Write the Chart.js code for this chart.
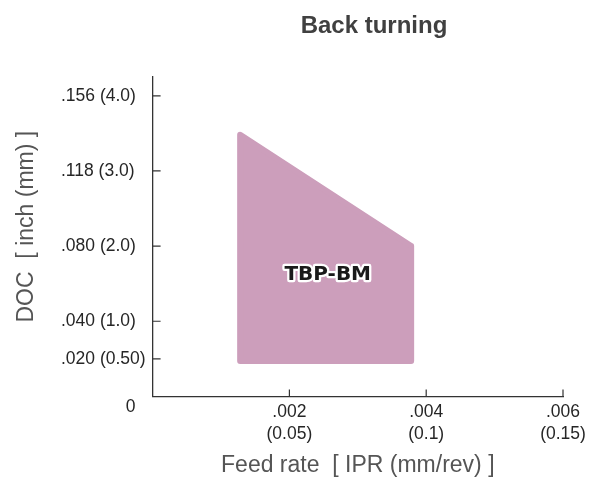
<!DOCTYPE html>
<html>
<head>
<meta charset="utf-8">
<script src="https://cdn.jsdelivr.net/npm/chart.js@4.4.0/dist/chart.umd.min.js"></script>
<style>
    html, body { margin: 0; padding: 0; background: #fff; }
    #wrap { width: 592px; height: 479px; }
</style>
</head>
<body>
<div id="wrap"><canvas id="chart"></canvas></div>
<script>
// corners of the TBP-BM area: feed (mm/rev) and DOC (mm)
const regionFeed = [0.032, 0.032, 0.0945, 0.0945, 0.032];
const regionDoc = [0.47, 3.48, 2.0, 0.47, 0.47];
const regionName = 'TBP-BM';

// ticks, inch with mm in brackets
const xTickValues = [0.05, 0.1, 0.15];
const xTickLabels = [['.002', '(0.05)'], ['.004', '(0.1)'], ['.006', '(0.15)']];
const yTickValues = [0.5, 1, 2, 3, 4];
const yTickLabels = ['.020 (0.50)', '.040 (1.0)', '.080 (2.0)', '.118 (3.0)', '.156 (4.0)'];

const FONT = '"Liberation Sans", Arial, sans-serif';

// titles, inner tick marks, "0" and the area label
const decorations = {
    id: 'decorations',
    afterDraw(chart) {
        const { ctx, chartArea, scales: { x, y } } = chart;
        ctx.save();

        ctx.strokeStyle = '#333';
        ctx.lineWidth = 1.2;
        ctx.beginPath();
        xTickValues.forEach(v => {
            const px = x.getPixelForValue(v);
            ctx.moveTo(px, chartArea.bottom);
            ctx.lineTo(px, chartArea.bottom - 7);
        });
        yTickValues.forEach(v => {
            const py = y.getPixelForValue(v);
            ctx.moveTo(chartArea.left, py);
            ctx.lineTo(chartArea.left + 8, py);
        });
        ctx.stroke();

        ctx.fillStyle = '#262626';
        ctx.font = '17.5px ' + FONT;
        ctx.textAlign = 'right';
        ctx.textBaseline = 'middle';
        ctx.fillText('0', chartArea.left - 17, chartArea.bottom + 11);

        ctx.fillStyle = '#404040';
        ctx.font = 'bold 24px ' + FONT;
        ctx.textAlign = 'center';
        ctx.textBaseline = 'alphabetic';
        ctx.fillText('Back turning', 374, 33);

        // y axis title
        ctx.save();
        ctx.translate(33, (chartArea.top + chartArea.bottom) / 2 - 10);
        ctx.rotate(-Math.PI / 2);
        ctx.fillStyle = '#555';
        ctx.font = '23px ' + FONT;
        ctx.fillText('DOC  [ inch (mm) ]', 0, 0);
        ctx.restore();

        // area label
        const lx = x.getPixelForValue(0.064);
        const ly = y.getPixelForValue(1.62);
        ctx.font = 'bold 20px "DejaVu Sans", sans-serif';
        ctx.textBaseline = 'middle';
        ctx.lineJoin = 'round';
        ctx.lineWidth = 4.5;
        ctx.strokeStyle = '#fff';
        ctx.strokeText(regionName, lx, ly);
        ctx.fillStyle = '#1a1a1a';
        ctx.fillText(regionName, lx, ly);

        ctx.restore();
    }
};

new Chart(document.getElementById('chart'), {
    type: 'line',
    data: {
        datasets: [{
            data: regionFeed.map((f, i) => ({ x: f, y: regionDoc[i] })),
            fill: 'shape',
            backgroundColor: '#cc9ebb',
            borderColor: '#cc9ebb',
            borderWidth: 6,
            borderJoinStyle: 'round',
            borderCapStyle: 'round',
            pointRadius: 0,
            tension: 0
        }]
    },
    options: {
        responsive: true,
        maintainAspectRatio: false,
        animation: false,
        layout: { padding: { left: 61, top: 77, right: 29, bottom: 0 } },
        plugins: {
            legend: { display: false },
            tooltip: { enabled: false },
            title: { display: false }
        },
        scales: {
            x: {
                type: 'linear',
                min: 0,
                max: 0.15,
                grid: { display: false, drawTicks: false },
                border: { display: true, color: '#333', width: 1.3 },
                afterBuildTicks: s => { s.ticks = xTickValues.map(v => ({ value: v })); },
                ticks: {
                    padding: 4,
                    color: '#262626',
                    maxRotation: 0,
                    autoSkip: false,
                    font: { family: FONT, size: 17.5, lineHeight: 1.3 },
                    callback: (v, i) => xTickLabels[i]
                },
                title: {
                    display: true,
                    text: 'Feed rate  [ IPR (mm/rev) ]',
                    color: '#555',
                    font: { family: FONT, size: 23 },
                    padding: { top: 1.5, bottom: 0 }
                }
            },
            y: {
                type: 'linear',
                min: 0,
                max: 4.25,
                grid: { display: false, drawTicks: false },
                border: { display: true, color: '#333', width: 1.3 },
                afterBuildTicks: s => { s.ticks = yTickValues.map(v => ({ value: v })); },
                afterFit: s => { s.width = 91.6; },
                ticks: {
                    padding: 0,
                    crossAlign: 'far',
                    color: '#262626',
                    autoSkip: false,
                    font: { family: FONT, size: 17.5 },
                    callback: (v, i) => yTickLabels[i]
                }
            }
        }
    },
    plugins: [decorations]
});
</script>
</body>
</html>
